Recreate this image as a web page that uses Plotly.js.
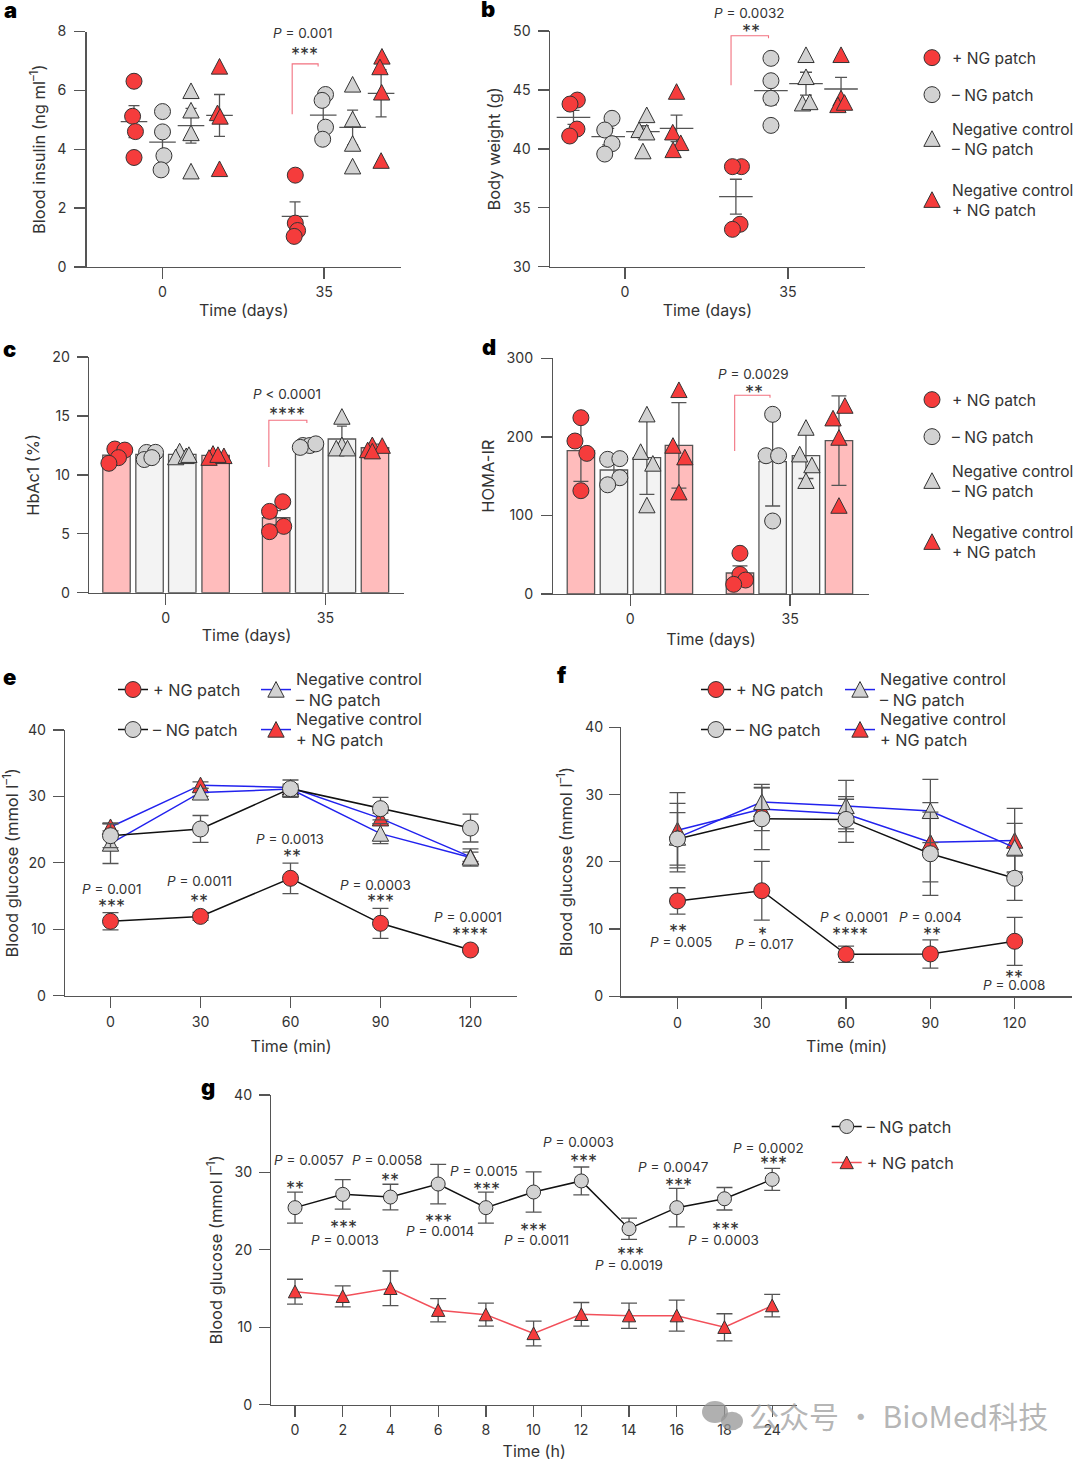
<!DOCTYPE html>
<html><head><meta charset="utf-8">
<script src="https://cdn.plot.ly/plotly-3.0.1.min.js"></script>
<style>html,body{margin:0;padding:0;background:#fff;width:1080px;height:1461px;overflow:hidden}#chart{width:1080px;height:1461px;overflow:hidden;position:relative}</style>
</head><body><div id="chart"></div>
<script>
const W = 1080, H = 1461;
const FONT = 'Inter, "Open Sans", sans-serif';
const INK = '#333333', AXIS = '#555555';
const RED = '#f53c3c', GREY = '#d2d2d2', EDGE = '#333333', BLUE = '#2222ee';
const BAR_RED = '#ffbcbc', BAR_GREY = '#f3f3f3';

const seriesNames = ['+ NG patch', '– NG patch', 'Negative control<br>– NG patch', 'Negative control<br>+ NG patch'];
const groupColors = [RED, GREY, GREY, RED];
const groupSymbols = ['circle', 'circle', 'triangle-up', 'triangle-up'];
const barColors = [BAR_RED, BAR_GREY, BAR_GREY, BAR_RED];

// Panel a: blood insulin
const aGroupX = [1, 2, 3, 4, 6.65, 7.64, 8.67, 9.67];
const aValues = [[6.31,5.12,4.60,3.72],[5.28,4.59,3.78,3.30],[5.98,5.32,4.55,3.25],[6.81,5.23,5.11,3.33],[3.12,1.49,1.24,1.04],[5.86,5.66,4.75,4.34],[6.20,5.02,4.19,3.42],[7.15,6.79,5.93,3.61]];
const aJitter = [[0,-.05,.05,0],[0,0,.05,-.05],[0,0,0,0],[0,-.07,.02,0],[.01,.01,.09,-.03],[.08,-.04,.08,-.02],[0,0,0,0],[.03,-.04,.02,0]];
const aMeans = [4.94,4.24,4.80,5.15,1.72,5.16,4.74,5.90];
const aErrors = [0.54,0.45,0.59,0.71,0.49,0.40,0.59,0.80];
const aTicks = [2, 7.67], dayLabels = ['0', '35'];

// Panel b: body weight
const bGroupX = [1, 2, 3, 3.97, 5.68, 6.69, 7.70, 8.71];
const bValues = [[44.14,43.8,41.68,41.09],[42.59,41.6,40.44,39.56],[42.87,41.6,41.4,39.8],[44.85,41.4,40.5,39.9],[38.49,38.49,33.6,33.17],[47.68,45.78,44.29,41.99],[47.97,46.1,43.86,43.97],[47.97,44.29,43.72,43.92]];
const bJitter = [[.11,-.1,.1,-.11],[.11,-.1,.11,-.1],[.11,-.11,.11,0],[0,-.11,.12,-.1],[.16,-.1,.12,-.1],[0,0,0,0],[0,0,-.1,.11],[0,0,-.09,.1]];
const bMeans = [42.67,41.03,41.46,41.74,35.94,44.94,45.53,45.08];
const bErrors = [0.6,0.7,0.5,1.13,1.48,1.2,0.97,0.98];
const bTicks = [2.48, 7.18];

// Panel c: HbA1c
const cGroupX = [1, 2, 2.99, 4, 5.83, 6.83, 7.82, 8.82];
const cValues = [[12.19,12.1,11.46,10.98],[11.9,11.91,11.3,11.46],[12.0,11.5,11.6,11.7],[11.8,11.45,11.6,11.7],[7.72,6.9,5.63,5.18],[12.49,12.49,12.63,12.33],[14.94,12.53,12.25,12.25],[12.53,12.47,12.1,12.0]];
const cJitter = [[-.05,.25,.06,-.23],[-.09,.18,-.16,.07],[-.08,-.2,.12,.2],[-.08,-.2,.25,.07],[.2,-.2,.23,-.2],[-.19,.02,.2,-.27],[0,0,-.17,.17],[-.08,.22,-.22,-.08]];
const cMeans = [11.68,11.74,11.74,11.65,6.36,12.45,13.04,12.3];
const cErrors = [0.3,0.3,0.3,0.3,0.6,0.2,1.1,0.3];
const cTicks = [2.49, 7.32];

// Panel d: HOMA-IR
const dGroupX = [1, 2, 3, 3.97, 5.82, 6.81, 7.82, 8.82];
const dValues = [[224.4,194.7,179,131.5],[171.4,172.3,148,139],[228.7,181,166,113],[259.7,188.8,174,129.4],[51.8,25,17.8,12.3],[228.7,176,176,92.9],[211.7,177.8,164,144],[239.7,223.6,199,112.4]];
const dJitter = [[0,-.18,.18,0],[-.19,.18,.18,-.19],[0,-.19,.18,0],[0,-.18,.18,0],[0,0,.17,-.19],[0,-.2,.18,0],[0,-.19,.18,0],[.18,-.18,0,0]];
const dMeans = [182.4,157.8,173.5,189.2,26.7,168.4,176,195.2];
const dErrors = [39,15,46.6,54.5,9,56.4,29,57];
const dTicks = [2.497, 7.34];

// Panel e
const minutes = [0, 30, 60, 90, 120];
const ePlus = [11.2,11.94,17.67,10.9,6.88];
const ePlusErr = [1.3,0.6,2.3,2.26,0.3];
const eMinus = [24.09,25.1,31.17,28.16,25.24];
const eMinusErr = [1.8,2.03,1.3,1.7,2.1];
const eCtrlMinus = [22.9,30.6,31.1,24.4,20.8];
const eCtrlMinusErr = [3,0.6,0.5,1.5,1.3];
const eCtrlPlus = [25.4,31.7,31.35,26.7,20.9];
const eCtrlPlusErr = [0.6,0.5,0.5,0.8,0.7];

// Panel f
const fPlus = [14.18,15.7,6.25,6.3,8.18];
const fPlusErr = [1.96,4.36,1.2,2.1,3.57];
const fMinus = [23.4,26.4,26.3,21.2,17.55];
const fMinusErr = [3.9,4.6,3.4,6.2,3.3];
const fCtrlMinus = [23.6,28.9,28.3,27.56,22.1];
const fCtrlMinusErr = [5.1,2.6,3.8,4.7,3.6];
const fCtrlPlus = [24.7,27.85,27.1,22.9,23.15];
const fCtrlPlusErr = [5.6,3.2,2.2,5.9,4.8];

// Panel g
const hours = ['0','2','4','6','8','10','12','14','16','18','24'];
const gMinus = [25.45,27.17,26.82,28.5,25.45,27.47,28.9,22.73,25.45,26.6,29.1];
const gMinusErr = [2,1.9,1.65,2.55,2,2.6,1.8,1.37,2.48,1.45,1.42];
const gPlus = [14.6,14.0,15.03,12.2,11.63,9.2,11.67,11.5,11.5,10,12.8];
const gPlusErr = [1.6,1.36,2.24,1.5,1.48,1.6,1.53,1.63,2,1.75,1.46];

// ---------- layout helpers ----------
const layout = {
  width: W, height: H, margin: {l:0,r:0,t:0,b:0}, paper_bgcolor:'#fff', plot_bgcolor:'rgba(0,0,0,0)',
  font: {family: FONT, color: INK, size: 15}, showlegend: true, hovermode: false,
  barmode: 'overlay', annotations: [], shapes: []
};
const traces = [];
const px = v => v / W, py = v => 1 - v / H;
function axis(n, g, xOpts, yOpts) {
  layout['xaxis' + n] = Object.assign({
    domain: [px(g.l), px(g.r)], anchor: 'y' + n, showgrid:false, zeroline:false, showline:true,
    linecolor: AXIS, linewidth: 1.3, ticks:'outside', ticklen: 11, tickwidth: 1.3, tickcolor: AXIS,
    tickfont: {size: 14.2, color: INK}, tickmode:'array', fixedrange:true
  }, xOpts);
  layout['yaxis' + n] = Object.assign({
    domain: [py(g.b), py(g.t)], anchor: 'x' + n, showgrid:false, zeroline:false, showline:true,
    linecolor: AXIS, linewidth: 1.3, ticks:'outside', ticklen: 11, tickwidth: 1.3, tickcolor: AXIS,
    tickfont: {size: 14.2, color: INK}, fixedrange:true
  }, yOpts);
}
function xTitle(text, standoff) { return {text, standoff, font:{size:16}}; }
function yTitle(text, standoff) { return {text, standoff, font:{size:16.5}}; }
function groupRange(g) { return [(g.l - g.g1) / g.unit + 1, (g.r - g.g1) / g.unit + 1]; }
function note(x, y, text, size) {
  layout.annotations.push({xref:'paper', yref:'paper', x: px(x), y: py(y), text, showarrow:false,
    xanchor:'center', yanchor:'middle', font:{size: size || 13.5, color: INK}});
}
function stars(x, y, text) { note(x, y + 4, text, 18); }
function letter(x, y, t) {
  layout.annotations.push({xref:'paper', yref:'paper', x: px(x), y: py(y), text:t, showarrow:false,
    xanchor:'center', yanchor:'middle', font:{family:FONT, weight:900, size: 22, color:'#000'}});
}
function bracket(n, x0, x1, top, lowL, lowR) {
  const s = n === 1 ? '' : n;
  layout.shapes.push({type:'path', xref:'x'+s, yref:'y'+s,
    path:`M${x0},${lowL} L${x0},${top} L${x1},${top} L${x1},${lowR}`,
    line:{color:'#f2707f', width:1.1}, fillcolor:'rgba(0,0,0,0)'});
}
let legendCount = 0;
// One legend per entry, so each entry can sit at its own height (centerY).
// The right-hand legends use a slightly smaller font so their box stays inside the page.
function legendEntry(textX, centerY, size) {
  legendCount += 1;
  const id = legendCount === 1 ? 'legend' : 'legend' + legendCount;
  layout[id] = {x: px(textX - 40), y: py(centerY), xanchor:'left', yanchor:'middle', bgcolor:'rgba(0,0,0,0)', borderwidth:0,
    font:{size: size || 16.2, color:INK}, itemwidth:30, itemclick:false, itemdoubleclick:false};
  return id;
}
function dotPanel(n, groupX, values, jitter, means, errors, o) {
  const s = n === 1 ? '' : n;
  values.forEach((vals, i) => {
    const k = i % 4;
    const err = {type:'data', array:[errors[i]], visible:true, color:AXIS, thickness:1.3, width:o.cap};
    if (o.bars) {
      traces.push({type:'bar', x:[groupX[i]], y:[means[i]], xaxis:'x'+s, yaxis:'y'+s, width:o.barWidth,
        marker:{color:barColors[k], line:{color:AXIS, width:1.3}}, error_y:err, showlegend:false});
    } else {
      traces.push({type:'scatter', mode:'markers', x:[groupX[i]], y:[means[i]], xaxis:'x'+s, yaxis:'y'+s,
        marker:{symbol:'line-ew', size:o.meanSize, color:AXIS, line:{color:AXIS, width:1.3}}, error_y:err, showlegend:false});
    }
    const show = o.legends && i < 4;
    const t = {type:'scatter', mode:'markers', x: vals.map((_, j) => groupX[i] + jitter[i][j]), y: vals,
      xaxis:'x'+s, yaxis:'y'+s, name: seriesNames[k],
      marker:{symbol:groupSymbols[k], size:16, color:groupColors[k], line:{color:EDGE, width:1}},
      showlegend: !!show};
    if (show) t.legend = o.legends[k];
    traces.push(t);
  });
}
function linePanel(s, x, y, err, name, color, symbol, lineColor, size, legend) {
  traces.push({type:'scatter', mode:'lines+markers', x, y, xaxis:'x'+s, yaxis:'y'+s, name,
    line:{color:lineColor, width:1.5},
    marker:{symbol, size, color, line:{color:EDGE, width:1}},
    error_y:{type:'data', array:err, visible:true, color:AXIS, thickness:1.3, width:8},
    legend, showlegend:true});
}

// ---------- a ----------
const gA = {l:86.5, r:401, t:31.5, b:267, g1:134, unit:28.5};
axis(1, gA, {range:groupRange(gA), tickvals:aTicks, ticktext:dayLabels, ticklabelstandoff:1, title:xTitle('Time (days)', 5)},
  {range:[0,8], tickvals:[0,2,4,6,8], ticklabelstandoff:5, title:yTitle('Blood insulin (ng ml<sup>–1</sup>)', 7)});
dotPanel(1, aGroupX, aValues, aJitter, aMeans, aErrors, {meanSize:19, cap:5.5});
bracket(1, 6.55, 7.46, 6.9, 5.19, 6.81);
note(302, 33, '<i>P</i> = 0.001'); stars(304.7, 51, '***');

// ---------- b ----------
const gB = {l:549.8, r:865, t:31, b:266.7, g1:573.5, unit:34.7};
axis(2, gB, {range:groupRange(gB), tickvals:bTicks, ticktext:dayLabels, ticklabelstandoff:1, title:xTitle('Time (days)', 5)},
  {range:[30,50], tickvals:[30,35,40,45,50], ticklabelstandoff:4, title:yTitle('Body weight (g)', 7.5)});
dotPanel(2, bGroupX, bValues, bJitter, bMeans, bErrors, {meanSize:24, cap:6,
  legends:[legendEntry(952,58,15.6), legendEntry(952,95,15.6), legendEntry(952,139,15.6), legendEntry(952,200,15.6)]});
bracket(2, 5.54, 6.62, 49.6, 45.4, 49.38);
note(749.4, 12.7, '<i>P</i> = 0.0032'); stars(751, 28, '**');

// ---------- c ----------
const gC = {l:89, r:404, t:357, b:592.7, g1:116.5, unit:33.05};
axis(3, gC, {range:groupRange(gC), tickvals:cTicks, ticktext:dayLabels, ticklabelstandoff:1, title:xTitle('Time (days)', 4)},
  {range:[0,20], tickvals:[0,5,10,15,20], ticklabelstandoff:4, title:yTitle('HbAc1 (%)', 8)});
dotPanel(3, cGroupX, cValues, cJitter, cMeans, cErrors, {bars:true, barWidth:.83, cap:5});
bracket(3, 5.61, 6.76, 14.63, 10.67, 14.4);
note(286.7, 394.3, '<i>P</i> &lt; 0.0001'); stars(287, 410, '****');

// ---------- d ----------
const gD = {l:553.3, r:868.8, t:358.3, b:594, g1:580.9, unit:33};
axis(4, gD, {range:groupRange(gD), tickvals:dTicks, ticktext:dayLabels, ticklabelstandoff:1, title:xTitle('Time (days)', 7)},
  {range:[0,300], tickvals:[0,100,200,300], ticklabelstandoff:5, title:yTitle('HOMA-IR', 7.5)});
dotPanel(4, dGroupX, dValues, dJitter, dMeans, dErrors, {bars:true, barWidth:.83, cap:7.5,
  legends:[legendEntry(952,400,15.6), legendEntry(952,437,15.6), legendEntry(952,481,15.6), legendEntry(952,542,15.6)]});
bracket(4, 5.66, 6.73, 252.9, 182, 249.9);
note(753, 374, '<i>P</i> = 0.0029'); stars(753.6, 388, '**');

// ---------- e ----------
const gE = {l:65.2, r:517, t:730, b:995.7};
axis(5, gE, {range:[-15.1,135.5], tickvals:minutes, ticktext:minutes.map(String), ticklabelstandoff:2, title:xTitle('Time (min)', 11)},
  {range:[0,40], tickvals:[0,10,20,30,40], ticklabelstandoff:4, title:yTitle('Blood glucose (mmol l<sup>–1</sup>)', 7)});
linePanel(5, minutes, eCtrlPlus, eCtrlPlusErr, seriesNames[3], RED, 'triangle-up', BLUE, 16, legendEntry(296,730));
linePanel(5, minutes, eCtrlMinus, eCtrlMinusErr, seriesNames[2], GREY, 'triangle-up', BLUE, 16, legendEntry(296,690));
linePanel(5, minutes, eMinus, eMinusErr, seriesNames[1], GREY, 'circle', '#111', 16, legendEntry(153,730));
linePanel(5, minutes, ePlus, ePlusErr, seriesNames[0], RED, 'circle', '#111', 16, legendEntry(153,690));
[[111.8,889.3,'<i>P</i> = 0.001'],[199.3,881,'<i>P</i> = 0.0011'],[289.9,838.7,'<i>P</i> = 0.0013'],[375,885,'<i>P</i> = 0.0003'],[467.6,916.7,'<i>P</i> = 0.0001']].forEach(a=>note(...a));
[[111.8,902.3,'***'],[199.3,897.3,'**'],[291.5,852.3,'**'],[380.7,897.3,'***'],[470.3,930,'****']].forEach(a=>stars(...a));

// ---------- f ----------
const gF = {l:621.3, r:1072, t:727.3, b:996.3};
axis(6, gF, {range:[-20,140.4], tickvals:minutes, ticktext:minutes.map(String), ticklabelstandoff:2, title:xTitle('Time (min)', 11)},
  {range:[0,40], tickvals:[0,10,20,30,40], ticklabelstandoff:3, title:yTitle('Blood glucose (mmol l<sup>–1</sup>)', 8)});
linePanel(6, minutes, fCtrlPlus, fCtrlPlusErr, seriesNames[3], RED, 'triangle-up', BLUE, 16, legendEntry(880,730));
linePanel(6, minutes, fCtrlMinus, fCtrlMinusErr, seriesNames[2], GREY, 'triangle-up', BLUE, 16, legendEntry(880,690));
linePanel(6, minutes, fMinus, fMinusErr, seriesNames[1], GREY, 'circle', '#111', 16, legendEntry(736,730));
linePanel(6, minutes, fPlus, fPlusErr, seriesNames[0], RED, 'circle', '#111', 16, legendEntry(736,690));
[[681,941.7,'<i>P</i> = 0.005'],[764.5,943.7,'<i>P</i> = 0.017'],[854,917.3,'<i>P</i> &lt; 0.0001'],[930.7,917.3,'<i>P</i> = 0.004'],[1013.5,985.3,'<i>P</i> = 0.008']].forEach(a=>note(...a));
[[678.4,927.3,'**'],[762,930.7,'*'],[850.3,930.7,'****'],[931.8,930,'**'],[1013.9,973.3,'**']].forEach(a=>stars(...a));

// ---------- g ----------
const gG = {l:271.3, r:797, t:1095, b:1404.7};
axis(7, gG, {type:'category', range:[-0.497,10.52], tickvals:hours, ticktext:hours, ticklabelstandoff:1, title:xTitle('Time (h)', 10)},
  {range:[0,40], tickvals:[0,10,20,30,40], ticklabelstandoff:4, title:yTitle('Blood glucose (mmol l<sup>–1</sup>)', 6.5)});
linePanel(7, hours, gPlus, gPlusErr, '+ NG patch', RED, 'triangle-up', '#f2505a', 13, legendEntry(866.7,1163));
linePanel(7, hours, gMinus, gMinusErr, '– NG patch', GREY, 'circle', '#111', 14, legendEntry(866.7,1127));
[[309,1160.3,'<i>P</i> = 0.0057'],[386.7,1160.3,'<i>P</i> = 0.0058'],[345,1239.7,'<i>P</i> = 0.0013'],[440,1231.3,'<i>P</i> = 0.0014'],[483.7,1170.7,'<i>P</i> = 0.0015'],[536.7,1239.7,'<i>P</i> = 0.0011'],[578.3,1141.7,'<i>P</i> = 0.0003'],[628.7,1265,'<i>P</i> = 0.0019'],[673,1166.7,'<i>P</i> = 0.0047'],[723.3,1239.7,'<i>P</i> = 0.0003'],[768,1147.7,'<i>P</i> = 0.0002']].forEach(a=>note(...a));
[[295,1184,'**'],[390.3,1176,'**'],[343.3,1223.7,'***'],[438.3,1217.3,'***'],[486.7,1185.3,'***'],[533.3,1226.3,'***'],[583.3,1157,'***'],[630.3,1250.3,'***'],[678.3,1181,'***'],[725.7,1225,'***'],[773,1159.3,'***']].forEach(a=>stars(...a));

// Panel letters
[[10,10,'a'],[488,9,'b'],[9,349,'c'],[489,347,'d'],[9,677,'e'],[562,675,'f'],[208,1087,'g']].forEach(a=>letter(...a));

// Watermark
layout.annotations.push({xref:'paper', yref:'paper', x:px(898), y:py(1415), text:'公众号 · BioMed科技', showarrow:false,
  xanchor:'center', yanchor:'middle', font:{family:'"Noto Sans CJK SC", sans-serif', size:30, color:'rgba(150,150,150,0.7)'}});
[[715,1412,13],[732,1421,11]].forEach(c=>layout.shapes.push({type:'circle', xref:'paper', yref:'paper', layer:'above',
  x0:px(c[0]-c[2]), x1:px(c[0]+c[2]), y0:py(c[1]+c[2]*.85), y1:py(c[1]-c[2]*.85),
  fillcolor:'rgba(150,150,150,0.75)', line:{width:0}}));

// Plotly's triangle-up is flatter than the reference triangle, so its outline is redrawn in place.
Plotly.newPlot('chart', traces, layout, {staticPlot:true, displayModeBar:false}).then(gd => {
  gd.querySelectorAll('path.point, path.scatterpts').forEach(p => {
    const m = /^M-([\d.]+),([\d.]+)H([\d.]+)L0,-([\d.]+)Z$/.exec(p.getAttribute('d') || '');
    if (!m) return;
    const r = parseFloat(m[4]);
    p.setAttribute('d', `M-${(1.02*r).toFixed(2)},${(.95*r).toFixed(2)}H${(1.02*r).toFixed(2)}L0,-${r}Z`);
  });
});
</script></body></html>
